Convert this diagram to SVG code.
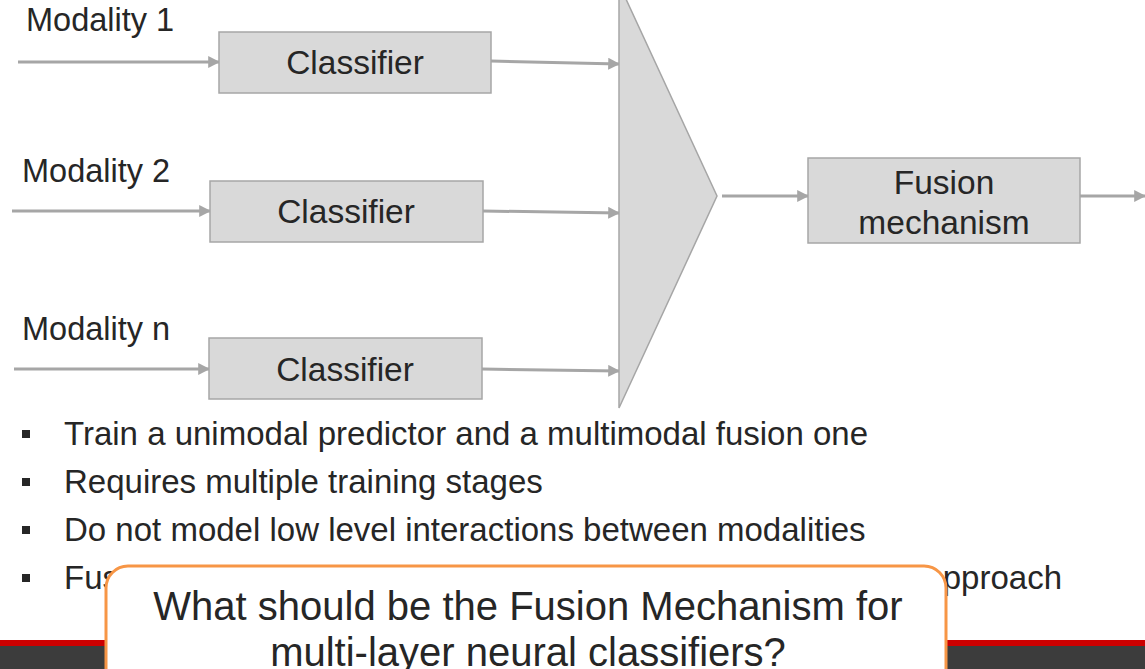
<svg xmlns="http://www.w3.org/2000/svg" width="1145" height="669" viewBox="0 0 1145 669">
<defs>
<style>
.t{font-family:"Liberation Sans",Arial,sans-serif;fill:#262626}
.box{fill:#d9d9d9;stroke:#a6a6a6;stroke-width:1.5}
.ln{stroke:#a6a6a6;stroke-width:3;fill:none;marker-end:url(#ah)}
.lbl{font-size:32.5px}
.cls{font-size:33.5px;text-anchor:middle}
.bul{font-size:33px}
.q{font-size:40px;text-anchor:middle}
</style>
<marker id="ah" viewBox="0 0 10 10" refX="9" refY="5" markerWidth="4" markerHeight="4" orient="auto" markerUnits="strokeWidth">
<path d="M0,0 L10,5 L0,10 z" fill="#a6a6a6"/>
</marker>
</defs>
<rect width="1145" height="669" fill="#ffffff"/>

<g id="connectors">
<line class="ln" x1="18" y1="62" x2="219" y2="62"/>
<line class="ln" x1="491" y1="61" x2="619" y2="64"/>
<line class="ln" x1="12" y1="211" x2="210" y2="211"/>
<line class="ln" x1="483" y1="211" x2="619" y2="213"/>
<line class="ln" x1="14" y1="369" x2="209" y2="369"/>
<line class="ln" x1="482" y1="369" x2="619" y2="371"/>
<line class="ln" x1="722" y1="196" x2="808" y2="196"/>
<line class="ln" x1="1080" y1="196" x2="1145" y2="196"/>
</g>

<g id="label-m1"><text class="t lbl" x="26" y="31">Modality 1</text></g>
<g id="label-m2"><text class="t lbl" x="22" y="182">Modality 2</text></g>
<g id="label-mn"><text class="t lbl" x="22" y="340">Modality n</text></g>

<g id="classifier1">
<rect class="box" x="219" y="32" width="272" height="61"/>
<text class="t cls" x="355" y="74">Classifier</text>
</g>
<g id="classifier2">
<rect class="box" x="210" y="181" width="273" height="61"/>
<text class="t cls" x="346" y="223">Classifier</text>
</g>
<g id="classifier3">
<rect class="box" x="209" y="338" width="273" height="61"/>
<text class="t cls" x="345" y="381">Classifier</text>
</g>

<g id="merge">
<polygon points="619,-16 717,196 619,408" fill="#d9d9d9" stroke="#a6a6a6" stroke-width="1.5"/>
</g>

<g id="fusion">
<rect class="box" x="808" y="158" width="272" height="85"/>
<text class="t cls" x="944" y="194">Fusion</text>
<text class="t cls" x="944" y="234">mechanism</text>
</g>

<g id="bullets">
<rect x="22" y="430" width="8" height="8" fill="#262626"/>
<text class="t bul" x="64" y="445">Train a unimodal predictor and a multimodal fusion one</text>
<rect x="22" y="478" width="8" height="8" fill="#262626"/>
<text class="t bul" x="64" y="493">Requires multiple training stages</text>
<rect x="22" y="526" width="8" height="8" fill="#262626"/>
<text class="t bul" x="64" y="541">Do not model low level interactions between modalities</text>
<rect x="22" y="574" width="8" height="8" fill="#262626"/>
<text class="t bul" x="64" y="589">Fus</text>
<text class="t bul" x="1062" y="589" text-anchor="end">pproach</text>
</g>

<g id="footer">
<rect x="0" y="640" width="1145" height="6" fill="#cc0000"/>
<rect x="0" y="646" width="1145" height="23" fill="#3c3c3c"/>
</g>

<g id="callout">
<rect x="106" y="566" width="840" height="130" rx="22" ry="22" fill="#ffffff" stroke="#f79646" stroke-width="3"/>
<text class="t q" x="528" y="620">What should be the Fusion Mechanism for</text>
<text class="t q" x="528" y="666">multi-layer neural classifiers?</text>
</g>
</svg>
